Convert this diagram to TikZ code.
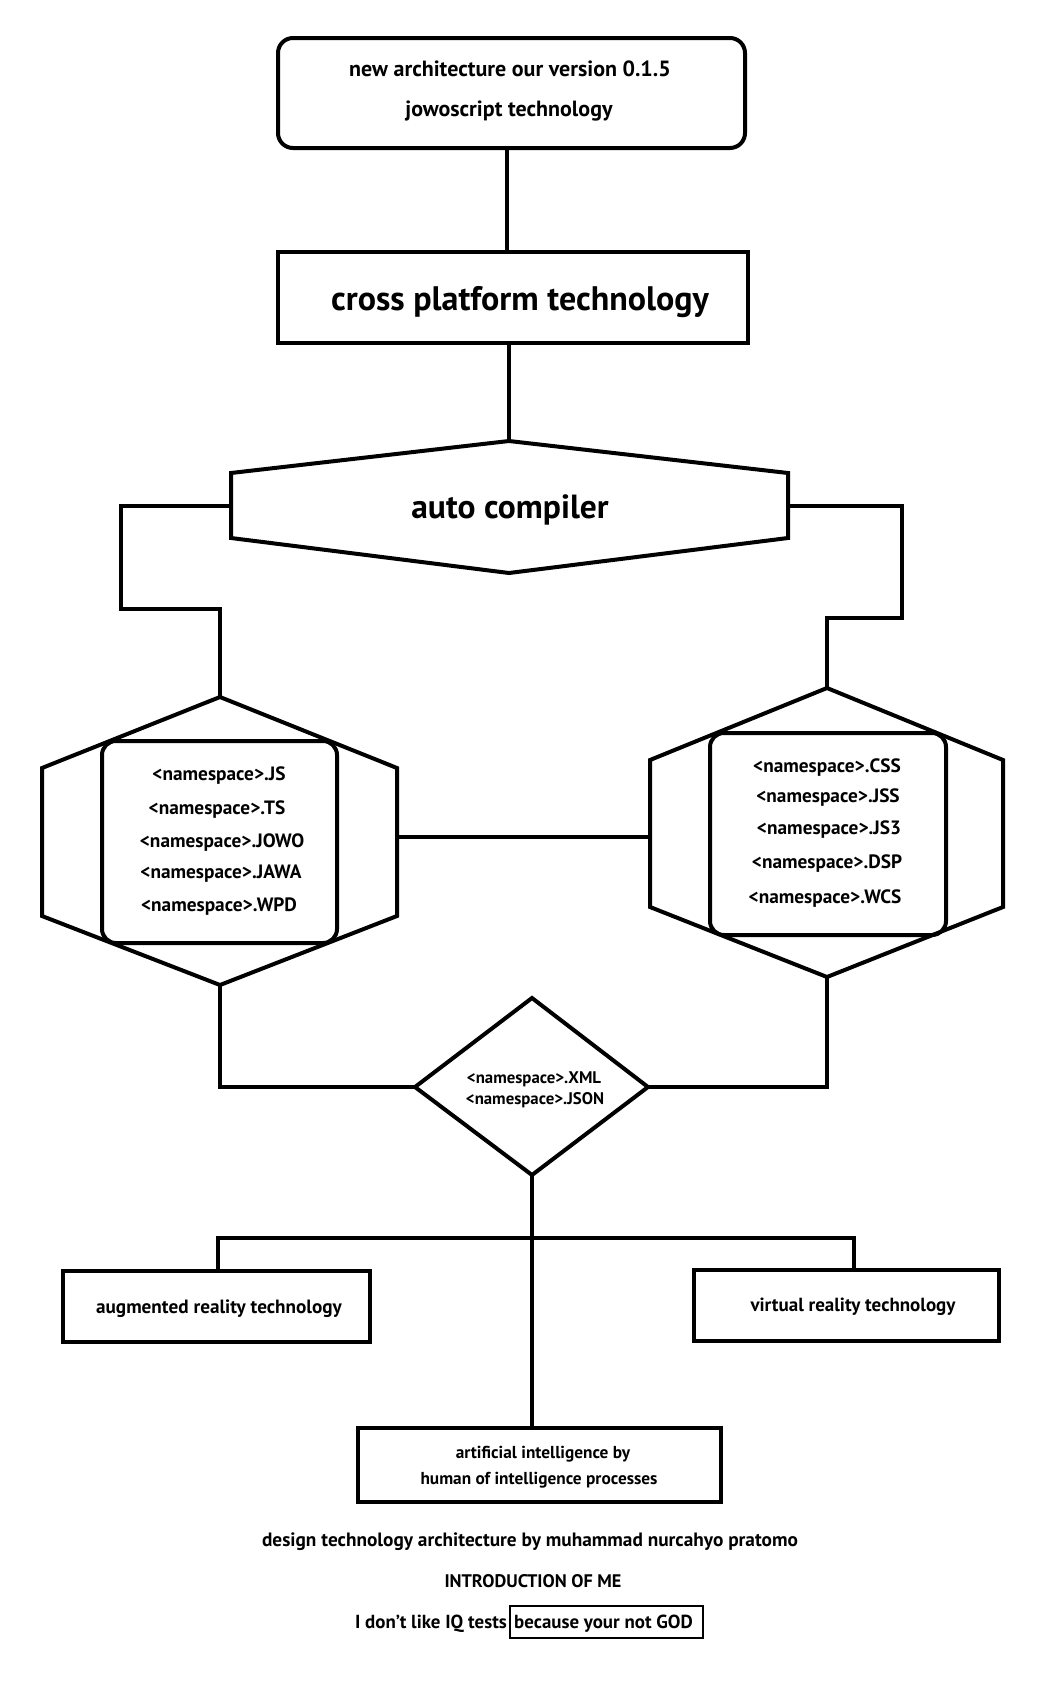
\documentclass[tikz,border=0pt]{standalone}
\usepackage{fontspec}
\setmainfont{PT Sans}
\begin{document}
\begin{tikzpicture}[x=1pt,y=-1pt,
  ln/.style={line width=4pt,line join=miter},
  thin/.style={line width=2.5pt},
  txt/.style={inner sep=0pt,anchor=base,font=\bfseries}]
\useasboundingbox (0,0) rectangle (1062,1690);
\fill[white] (0,0) rectangle (1062,1690);
% top box
\draw[ln,rounded corners=15pt] (278,38) rectangle (745,148);
\node[txt,font=\bfseries\fontsize{22}{26}\selectfont] (t1) at (510,76) {new architecture our version 0.1.5};
\node[txt,font=\bfseries\fontsize{22}{26}\selectfont] (t2) at (509,116) {jowoscript technology};
\coordinate (topb) at (507,148);
% cross platform
\draw[ln] (278,252) rectangle (748,343);
\coordinate (crosst) at (507,252);
\coordinate (crossb) at (509,343);
\node[txt,font=\bfseries\fontsize{34}{40}\selectfont] (cross) at (520,310) {cross platform technology};
\draw[ln] (topb) -- (crosst);
% auto compiler hexagon
\coordinate (acT) at (509,441);
\coordinate (acL) at (231,506);
\coordinate (acR) at (788,506);
\draw[ln] (acT) -- (788,473) -- (788,538) -- (509,573) -- (231,538) -- (231,473) -- cycle;
\node[txt,font=\bfseries\fontsize{33.5}{40}\selectfont] (auto) at (510,518) {auto compiler};
\draw[ln] (crossb) -- (acT);
% left hexagon
\coordinate (lhT) at (220,697);
\coordinate (lhB) at (220,985);
\coordinate (lhR) at (397,837);
\draw[ln] (lhT) -- (397,768) -- (397,916) -- (lhB) -- (42,916) -- (42,768) -- cycle;
\draw[ln,rounded corners=14pt] (102,741) rectangle (337,943);
\begin{scope}[every node/.style={txt,font=\bfseries\fontsize{19.3}{23}\selectfont}]
\node (l1) at (219,780) {<namespace>.JS};
\node (l2) at (217,814) {<namespace>.TS};
\node (l3) at (222,847) {<namespace>.JOWO};
\node (l4) at (221,878) {<namespace>.JAWA};
\node (l5) at (219,911) {<namespace>.WPD};
\end{scope}
% right hexagon
\coordinate (rhT) at (827,688);
\coordinate (rhB) at (827,977);
\coordinate (rhL) at (650,837);
\draw[ln] (rhT) -- (1003,760) -- (1003,907) -- (rhB) -- (650,907) -- (650,760) -- cycle;
\draw[ln,rounded corners=14pt] (710,733) rectangle (946,935);
\begin{scope}[every node/.style={txt,font=\bfseries\fontsize{19.3}{23}\selectfont}]
\node (r1) at (827,772) {<namespace>.CSS};
\node (r2) at (828,802) {<namespace>.JSS};
\node (r3) at (829,834) {<namespace>.JS3};
\node (r4) at (827,868) {<namespace>.DSP};
\node (r5) at (825,903) {<namespace>.WCS};
\end{scope}
% connectors auto compiler -> hexagons
\draw[ln] (acL) -- (121,506) -- (121,609) -- (220,609) -- (lhT);
\draw[ln] (acR) -- (902,506) -- (902,618) -- (827,618) -- (rhT);
\draw[ln] (lhR) -- (rhL);
% diamond
\coordinate (dT) at (532,998);
\coordinate (dR) at (648,1087);
\coordinate (dB) at (532,1175);
\coordinate (dL) at (415,1087);
\draw[ln] (dT) -- (dR) -- (dB) -- (dL) -- cycle;
\node[txt,font=\bfseries\fontsize{16.8}{20}\selectfont] (d1) at (534,1083) {<namespace>.XML};
\node[txt,font=\bfseries\fontsize{16.8}{20}\selectfont] (d2) at (535,1104) {<namespace>.JSON};
\draw[ln] (lhB) -- (220,1087) -- (dL);
\draw[ln] (rhB) -- (827,1087) -- (dR);
% bottom boxes
\draw[ln] (63,1271) rectangle (370,1342);
\coordinate (arT) at (218,1271);
\node[txt,font=\bfseries\fontsize{19.2}{23}\selectfont] (ar) at (219,1313) {augmented reality technology};
\draw[ln] (694,1270) rectangle (999,1341);
\coordinate (vrT) at (854,1270);
\node[txt,font=\bfseries\fontsize{19}{23}\selectfont] (vr) at (853,1311) {virtual reality technology};
\draw[ln] (358,1428) rectangle (721,1502);
\coordinate (aiT) at (532,1428);
\node[txt,font=\bfseries\fontsize{17.3}{21}\selectfont] (ai1) at (543,1458) {artificial intelligence by};
\node[txt,font=\bfseries\fontsize{17.3}{21}\selectfont] (ai2) at (539,1484) {human of intelligence processes};
\coordinate (jL) at (218,1238);
\coordinate (jR) at (854,1238);
\draw[ln] (dB) -- (aiT);
\draw[ln] (arT) -- (jL) -- (jR) -- (vrT);
% footer
\node[txt,font=\bfseries\fontsize{19.3}{23}\selectfont] (f1) at (530,1546) {design technology architecture by muhammad nurcahyo pratomo};
\node[txt,font=\bfseries\fontsize{18.2}{22}\selectfont] (f2) at (533,1587) {INTRODUCTION OF ME};
\node[txt,font=\bfseries\fontsize{18.9}{23}\selectfont,anchor=base east] (f3) at (507,1628) {I don\symbol{"27}t like IQ tests};
\node[txt,font=\bfseries\fontsize{18.9}{23}\selectfont,anchor=base west] (f4) at (514,1628) {because your not GOD};
\draw[thin] (510,1606) rectangle (703,1638);
\end{tikzpicture}
\end{document}
